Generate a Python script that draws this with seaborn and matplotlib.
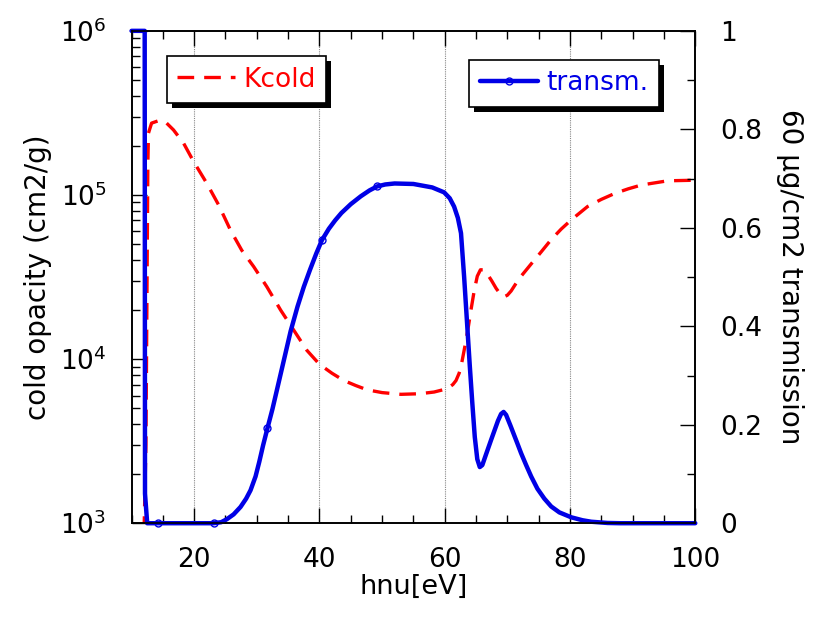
import matplotlib
matplotlib.use("Agg")
import matplotlib.pyplot as plt
import matplotlib.ticker as mticker
from matplotlib.patches import Rectangle
from matplotlib.transforms import IdentityTransform
import seaborn as sns
import pandas as pd

# cold opacity (left axis, log)
hnu_k = [11.9, 12.3, 12.5, 12.6, 12.7, 13.2, 14.6, 15.6, 16.7, 18.3, 19.9, 22.0,
         23.9, 25.8, 27.6, 29.5, 31.6, 33.8, 35.9, 38.0, 40.0, 42.0, 43.9, 45.8,
         47.6, 50.0, 53.0, 56.0, 58.3, 60.4, 61.3, 61.8, 62.3, 62.6, 63.0, 63.4,
         63.8, 64.2, 64.7, 65.2, 65.7, 66.2, 66.8, 67.5, 68.2, 69.0, 69.5, 70.0,
         70.6, 71.4, 72.2, 73.8, 75.4, 77.0, 78.6, 80.2, 82.8, 85.0, 87.1, 89.3,
         91.4, 95.6, 100.0]
kcold = [6e2, 3e3, 4e4, 1.5e5, 2.38e5, 2.74e5, 2.86e5, 2.74e5, 2.49e5, 2.07e5, 1.6e5, 1.18e5,
         8.7e4, 6.1e4, 4.6e4, 3.66e4, 2.76e4, 1.99e4, 1.5e4, 1.13e4, 9.3e3, 8.2e3, 7.4e3, 6.9e3,
         6.5e3, 6.25e3, 6.1e3, 6.15e3, 6.3e3, 6.6e3, 7.0e3, 7.4e3, 8.2e3, 9e3, 1.08e4, 1.3e4,
         1.6e4, 2e4, 2.6e4, 3.2e4, 3.5e4, 3.5e4, 3.3e4, 3.0e4, 2.7e4, 2.45e4, 2.4e4, 2.45e4,
         2.6e4, 2.9e4, 3.2e4, 3.8e4, 4.5e4, 5.35e4, 6.2e4, 7.05e4, 8.5e4, 9.4e4, 1.02e5, 1.09e5,
         1.15e5, 1.22e5, 1.23e5]

# transmission (right axis)
hnu_t = [10.0, 12.1, 12.15, 12.5, 14.3, 18.0, 23.1, 24.3, 25.2, 26.3, 27.4, 28.3,
         29.0, 29.8, 30.4, 31.0, 31.7, 32.5, 33.2, 34.3, 35.4, 36.5, 37.5, 38.5,
         39.5, 40.4, 41.5, 42.5, 43.5, 45.0, 46.6, 48.0, 49.2, 50.5, 52.0, 55.0,
         58.0, 59.9, 60.8, 61.5, 62.1, 62.6, 63.1, 63.6, 64.0, 64.4, 64.8, 65.2,
         65.6, 66.0, 66.6, 67.4, 68.5, 69.0, 69.4, 69.8, 70.5, 71.6, 72.2, 73.0,
         73.8, 74.8, 75.9, 77.0, 78.3, 80.2, 82.0, 83.4, 86.0, 88.0, 100.0]
transm = [1.0, 1.0, 0.06, 0.0, 0.0, 0.0, 0.0, 0.002, 0.008, 0.018, 0.033, 0.05,
          0.067, 0.095, 0.125, 0.158, 0.193, 0.232, 0.27, 0.33, 0.39, 0.44, 0.48, 0.515,
          0.548, 0.575, 0.598, 0.615, 0.63, 0.648, 0.664, 0.676, 0.684, 0.688, 0.69, 0.689,
          0.682, 0.672, 0.66, 0.643, 0.62, 0.589, 0.50, 0.40, 0.32, 0.245, 0.175, 0.13,
          0.114, 0.118, 0.14, 0.169, 0.208, 0.222, 0.226, 0.22, 0.198, 0.162, 0.142, 0.118,
          0.095, 0.07, 0.05, 0.034, 0.022, 0.012, 0.006, 0.003, 0.0005, 0.0, 0.0]
marker_idx = [4, 6, 16, 25, 32]

df_k = pd.DataFrame({"hnu": hnu_k, "k": kcold})
df_t = pd.DataFrame({"hnu": hnu_t, "t": transm})

sns.set_style("ticks")
plt.rcParams["font.family"] = ["DejaVu Sans"]
plt.rcParams["xtick.direction"] = "in"
plt.rcParams["ytick.direction"] = "in"
plt.rcParams["text.color"] = "black"
plt.rcParams["axes.labelcolor"] = "black"
plt.rcParams["xtick.color"] = "black"
plt.rcParams["ytick.color"] = "black"

fig = plt.figure(figsize=(8.17, 6.17), dpi=100)
ax = fig.add_axes([0.161, 0.152, 0.69, 0.798])

red = "#ff0000"
blue = "#0000e6"

sns.lineplot(data=df_k, x="hnu", y="k", ax=ax, sort=False, estimator=None,
             color=red, linewidth=2.4, dashes=False, label="Kcold")
ax.lines[0].set_dashes((5, 3))
ax.set_yscale("log")
ax.set_ylim(1e3, 1e6)
ax.set_xlim(10, 100)
ax.xaxis.set_major_locator(mticker.MultipleLocator(20))
ax.xaxis.set_minor_locator(mticker.MultipleLocator(5))
ax.yaxis.set_minor_locator(mticker.LogLocator(base=10, subs=range(2, 10)))
ax.yaxis.set_minor_formatter(mticker.NullFormatter())
ax.grid(axis="x", which="major", color="#888888", linestyle=(0, (1, 1)), linewidth=0.8)
ax.tick_params(which="major", length=11, width=1, labelsize=19, top=True)
ax.tick_params(axis="x", which="major", pad=17)
ax.tick_params(axis="y", which="major", pad=18)
ax.tick_params(which="minor", length=6, width=1, top=True)
ax.set_xlabel("hnu[eV]", fontsize=19.5, labelpad=1)
ax.set_ylabel("cold opacity (cm2/g)", fontsize=20, labelpad=6)

ax2 = ax.twinx()
sns.lineplot(data=df_t, x="hnu", y="t", ax=ax2, sort=False, estimator=None,
             color=blue, linewidth=3.2, marker="o", markersize=5,
             markerfacecolor="none", markeredgecolor=blue, markeredgewidth=1,
             markevery=marker_idx, label="transm.", clip_on=False,
             solid_joinstyle="round")
ax2.set_ylim(0, 1)
ax2.set_xlim(10, 100)
ax2.yaxis.set_major_locator(mticker.MultipleLocator(0.2))
ax2.yaxis.set_minor_locator(mticker.MultipleLocator(0.1))
ax2.yaxis.set_major_formatter(mticker.FuncFormatter(lambda v, p: f"{v:g}"))
ax2.tick_params(which="major", length=11, width=1, labelsize=19, pad=18)
ax2.tick_params(which="minor", length=6, width=1)
ax2.set_ylabel("60 µg/cm2 transmission", fontsize=20, rotation=270, labelpad=30)

for a in (ax, ax2):
    for s in a.spines.values():
        s.set_linewidth(1.2)
        s.set_color("black")

ax.get_legend().remove()
h1, l1 = ax.get_legend_handles_labels()
h2, l2 = ax2.get_legend_handles_labels()
ax2.get_legend().remove()

leg_kw = dict(loc="upper left", borderaxespad=0, fontsize=19, frameon=True,
              fancybox=False, edgecolor="black", framealpha=1,
              handlelength=2.2, handletextpad=0.3, borderpad=0.4)
leg1 = ax2.legend(h1, l1, bbox_to_anchor=(0.0625, 0.949), **leg_kw)
for t in leg1.get_texts():
    t.set_color(red)
leg1.get_frame().set_linewidth(1.2)
ax2.add_artist(leg1)
leg2 = ax2.legend(h2, l2, bbox_to_anchor=(0.5995, 0.941), **leg_kw)
for t in leg2.get_texts():
    t.set_color(blue)
leg2.get_frame().set_linewidth(1.2)

# black drop shadows behind the legend boxes
fig.canvas.draw()
for lg in (leg1, leg2):
    bb = lg.get_window_extent()
    sh = Rectangle((bb.x0 + 5, bb.y0 - 5), bb.width, bb.height,
                   transform=IdentityTransform(), facecolor="black",
                   edgecolor="none", zorder=4.9)
    ax2.add_artist(sh)

fig.savefig("out.png", dpi=100)
